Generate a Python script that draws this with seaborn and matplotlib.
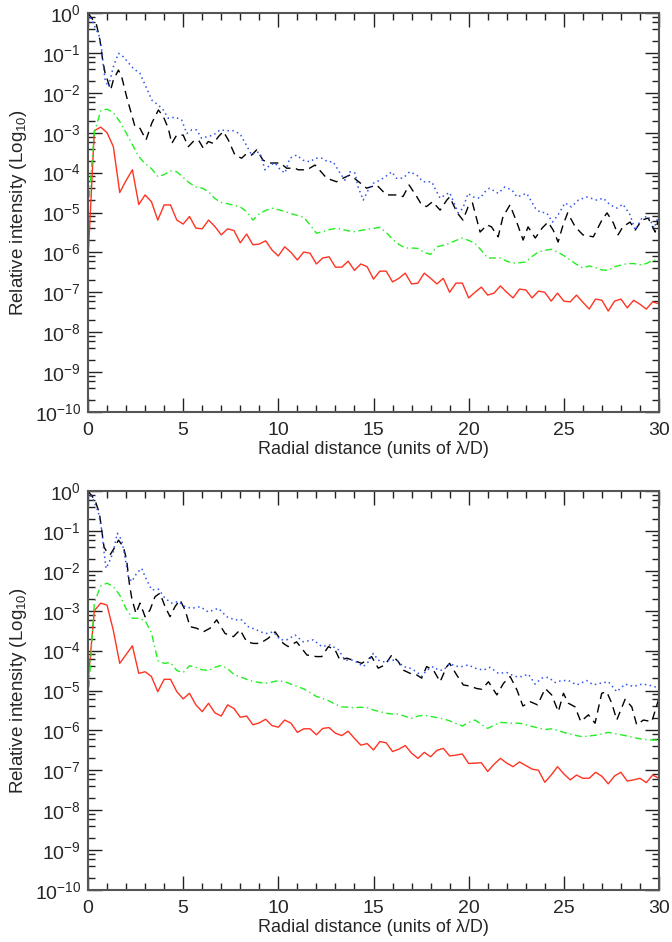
import numpy as np
import pandas as pd
import seaborn as sns
import matplotlib
matplotlib.use("Agg")
import matplotlib.pyplot as plt
from matplotlib.ticker import LogLocator, MultipleLocator, NullFormatter

# ---------------- data (log10 of relative intensity) ----------------
X_GRID = np.arange(91) / 3.0

RED_TOP = [-6.2, -2.95, -2.86, -3.0, -3.35, -4.5, -4.2, -3.93, -4.8, -4.56,
           -4.73, -5.19, -4.81, -4.81, -5.19, -5.29, -5.1, -5.39, -5.41, -5.19,
           -5.35, -5.56, -5.41, -5.45, -5.76, -5.54, -5.81, -5.79, -5.71, -5.94,
           -6.09, -5.86, -6.0, -6.19, -5.99, -6.02, -6.29, -6.14, -6.11, -6.37,
           -6.37, -6.22, -6.45, -6.29, -6.36, -6.67, -6.47, -6.47, -6.74, -6.65,
           -6.52, -6.79, -6.77, -6.52, -6.65, -6.79, -6.65, -7.0, -6.77, -6.77,
           -7.14, -7.0, -6.87, -7.07, -7.02, -6.84, -7.0, -7.14, -6.92, -6.94,
           -7.14, -6.97, -7.0, -7.22, -7.02, -7.22, -7.24, -7.07, -7.25, -7.42,
           -7.17, -7.2, -7.47, -7.22, -7.17, -7.39, -7.2, -7.3, -7.42, -7.24,
           -7.29]

GREEN_TOP = [-5.0, -3.0, -2.45, -2.41, -2.5, -2.72, -3.0, -3.3, -3.6, -3.77,
             -3.9, -4.1, -4.05, -3.96, -3.98, -4.12, -4.26, -4.36, -4.39, -4.48,
             -4.65, -4.75, -4.78, -4.82, -4.86, -4.98, -5.19, -5.03, -4.95, -4.89,
             -4.93, -4.97, -5.03, -5.07, -5.12, -5.31, -5.52, -5.48, -5.43, -5.4,
             -5.42, -5.46, -5.48, -5.45, -5.42, -5.4, -5.37, -5.5, -5.67, -5.8,
             -5.89, -5.89, -5.9, -6.0, -6.05, -5.86, -5.82, -5.77, -5.7, -5.64,
             -5.7, -5.77, -5.95, -6.14, -6.14, -6.14, -6.22, -6.27, -6.26, -6.24,
             -6.1, -5.99, -5.95, -5.92, -5.99, -6.08, -6.19, -6.3, -6.39, -6.34,
             -6.38, -6.44, -6.45, -6.36, -6.32, -6.28, -6.28, -6.31, -6.28, -6.2,
             -6.2]

BLUE_TOP = [(0, 0), (0.28, -0.26), (0.6, -0.59), (0.72, -0.93), (0.81, -1.35), (0.9, -1.68),
            (1.07, -1.85), (1.33, -1.35), (1.6, -1.01), (1.86, -1.1), (2.38, -1.39), (2.73, -1.51),
            (3.0, -1.8), (3.35, -2.18), (3.7, -2.31), (3.96, -2.43), (4.22, -2.64), (4.57, -2.61),
            (4.92, -2.68), (5.19, -3.02), (5.45, -2.93), (5.71, -2.93), (5.97, -3.14), (6.24, -3.1),
            (6.59, -3.06), (6.94, -2.93), (7.29, -2.95), (7.64, -2.95), (7.99, -3.03), (8.34, -3.33),
            (8.6, -3.56), (8.86, -3.48), (9.04, -3.51), (9.3, -3.93), (9.56, -3.81), (9.83, -3.76),
            (10.1, -3.93), (10.35, -4.01), (10.6, -3.64), (10.96, -3.56), (11.3, -3.69), (11.67, -3.73),
            (11.93, -3.64), (12.28, -3.64), (12.6, -3.73), (12.88, -3.73), (13.24, -4.01), (13.5, -4.19),
            (13.77, -3.98), (14.03, -4.01), (14.19, -4.36), (14.46, -4.69), (14.72, -4.44), (14.98, -4.27),
            (15.34, -4.19), (15.6, -4.11), (15.96, -3.98), (16.2, -4.14), (16.55, -4.14), (16.9, -3.98),
            (17.27, -4.06), (17.6, -4.23), (18.06, -4.23), (18.32, -4.48), (18.5, -4.64), (18.76, -4.56),
            (19.0, -4.5), (19.45, -5.01), (19.7, -4.89), (19.97, -4.52), (20.23, -4.61), (20.6, -4.64),
            (20.86, -4.48), (21.1, -4.39), (21.55, -4.52), (21.9, -4.36), (22.28, -4.44), (22.54, -4.61),
            (23.05, -4.52), (23.5, -4.89), (23.75, -4.99), (24.1, -5.01), (24.4, -5.24), (24.7, -5.06),
            (25.06, -4.76), (25.4, -4.86), (25.76, -4.69), (26.2, -4.61), (26.74, -4.69), (27.07, -4.64),
            (27.43, -4.81), (27.8, -4.89), (28.1, -4.79), (28.48, -5.06), (28.75, -5.44), (29.1, -5.14),
            (29.43, -5.09), (29.74, -5.39), (30.0, -5.06)]

BLACK_TOP = [(0, 0), (0.45, -0.3), (0.63, -0.68), (0.77, -1.18), (0.9, -1.51), (1.07, -1.75),
             (1.19, -1.93), (1.33, -1.68), (1.6, -1.43), (1.77, -1.6), (2.03, -2.1), (2.3, -2.56),
             (2.47, -2.85), (2.73, -2.89), (3.05, -3.18), (3.35, -2.76), (3.7, -2.43), (3.96, -2.6),
             (4.22, -2.89), (4.4, -3.27), (4.66, -3.06), (5.0, -3.06), (5.27, -3.35), (5.53, -3.22),
             (5.8, -3.18), (6.06, -3.39), (6.32, -3.22), (6.59, -3.27), (6.85, -3.1), (7.11, -2.97),
             (7.37, -3.18), (7.72, -3.56), (8.07, -3.64), (8.34, -3.52), (8.6, -3.56), (8.86, -3.43),
             (9.2, -3.69), (9.56, -3.76), (10.1, -3.76), (10.44, -3.89), (10.88, -3.89), (11.04, -3.93),
             (11.5, -3.93), (11.93, -3.81), (12.54, -4.14), (13.06, -4.23), (13.4, -4.14), (13.77, -4.06),
             (14.12, -4.19), (14.64, -4.39), (15.17, -4.31), (15.43, -4.44), (15.69, -4.56), (16.22, -4.56),
             (16.55, -4.6), (16.87, -4.31), (17.27, -4.6), (17.53, -4.81), (17.79, -4.85), (18.1, -4.73),
             (18.5, -4.94), (18.85, -4.69), (19.0, -4.61), (19.4, -5.01), (19.7, -5.19), (19.97, -4.86),
             (20.2, -4.76), (20.6, -5.49), (20.97, -5.31), (21.2, -5.36), (21.55, -5.61), (21.8, -5.11),
             (22.17, -4.81), (22.54, -5.26), (22.86, -5.69), (23.12, -5.36), (23.5, -5.64), (23.86, -5.39),
             (24.17, -5.24), (24.44, -5.44), (24.7, -5.74), (24.96, -5.31), (25.2, -5.01), (25.6, -5.36),
             (26.0, -5.56), (26.55, -5.61), (27.0, -5.19), (27.27, -5.01), (27.6, -5.26), (27.85, -5.56),
             (28.1, -5.36), (28.48, -5.24), (28.75, -5.44), (29.1, -5.19), (29.43, -5.14), (29.8, -5.49),
             (30.0, -5.11)]

RED_BOT = [-4.8, -3.0, -2.81, -2.86, -3.5, -4.32, -4.1, -3.88, -4.57, -4.53,
           -4.65, -5.03, -4.72, -4.72, -5.03, -5.21, -5.07, -5.36, -5.53, -5.32,
           -5.56, -5.64, -5.36, -5.45, -5.67, -5.64, -5.86, -5.81, -5.72, -5.88,
           -5.92, -5.74, -5.82, -6.05, -5.96, -5.96, -6.11, -5.95, -5.93, -6.07,
           -6.13, -6.02, -6.2, -6.37, -6.33, -6.49, -6.28, -6.31, -6.53, -6.47,
           -6.38, -6.57, -6.7, -6.55, -6.66, -6.5, -6.45, -6.64, -6.62, -6.59,
           -6.83, -6.82, -6.81, -7.03, -6.85, -6.7, -6.82, -6.91, -6.79, -6.88,
           -6.97, -7.0, -7.3, -7.12, -6.91, -7.09, -7.24, -7.12, -7.2, -7.2,
           -7.05, -7.15, -7.34, -7.14, -7.05, -7.27, -7.24, -7.2, -7.31, -7.12,
           -7.2]

GREEN_BOT = [-5.3, -2.8, -2.38, -2.31, -2.4, -2.61, -2.95, -3.19, -3.19, -3.25,
             -3.55, -4.25, -4.32, -4.3, -4.5, -4.55, -4.38, -4.42, -4.48, -4.5,
             -4.42, -4.37, -4.45, -4.6, -4.66, -4.72, -4.77, -4.8, -4.82, -4.79,
             -4.75, -4.78, -4.84, -4.9, -4.96, -5.05, -5.15, -5.2, -5.26, -5.35,
             -5.41, -5.42, -5.43, -5.42, -5.43, -5.49, -5.53, -5.57, -5.59, -5.59,
             -5.65, -5.7, -5.64, -5.62, -5.65, -5.68, -5.71, -5.76, -5.83, -5.89,
             -5.8, -5.74, -5.85, -5.95, -5.87, -5.8, -5.81, -5.82, -5.82, -5.86,
             -5.9, -5.94, -5.98, -5.96, -6.0, -6.05, -6.09, -6.13, -6.16, -6.14,
             -6.12, -6.09, -6.05, -6.08, -6.11, -6.14, -6.18, -6.21, -6.23, -6.24,
             -6.24]

BLUE_BOT = [(0, 0), (0.28, -0.23), (0.54, -0.52), (0.72, -0.98), (0.81, -1.4), (0.95, -1.94),
            (1.16, -1.73), (1.33, -1.52), (1.54, -1.06), (1.77, -1.23), (1.94, -1.65), (2.12, -2.15),
            (2.3, -2.27), (2.56, -2.06), (2.82, -1.94), (3.08, -2.23), (3.35, -2.48), (3.7, -2.46),
            (4.05, -2.69), (4.4, -2.81), (4.75, -2.77), (5.1, -2.9), (5.45, -2.94), (5.89, -2.9),
            (6.32, -3.03), (6.85, -2.94), (7.29, -3.15), (7.72, -3.23), (8.07, -3.23), (8.42, -3.4),
            (8.86, -3.48), (9.04, -3.53), (9.39, -3.57), (9.74, -3.53), (10.1, -3.73), (10.44, -3.73),
            (10.88, -3.61), (11.31, -3.78), (11.84, -3.73), (12.28, -3.9), (12.72, -3.86), (13.16, -3.98),
            (13.5, -4.24), (13.94, -4.24), (14.21, -4.32), (14.47, -4.4), (14.73, -4.28), (14.99, -4.07),
            (15.25, -4.24), (15.52, -4.28), (15.87, -4.24), (16.22, -4.24), (16.57, -4.4), (16.92, -4.44),
            (17.27, -4.53), (17.53, -4.65), (17.79, -4.49), (18.15, -4.4), (18.41, -4.49), (18.67, -4.49),
            (19.02, -4.32), (19.28, -4.39), (19.63, -4.4), (19.98, -4.36), (20.34, -4.44), (20.77, -4.49),
            (21.12, -4.42), (21.56, -4.57), (22.0, -4.55), (22.44, -4.65), (22.79, -4.65), (23.14, -4.59),
            (23.49, -4.84), (23.84, -4.69), (24.19, -4.67), (24.54, -4.8), (24.89, -4.75), (25.24, -4.75),
            (25.68, -4.86), (26.2, -4.75), (26.55, -4.86), (26.9, -4.82), (27.34, -4.78), (27.78, -5.03),
            (28.22, -4.84), (28.66, -4.9), (29.1, -4.84), (29.44, -4.86), (29.88, -4.92), (30.0, -4.92)]

BLACK_BOT = [(0, 0), (0.37, -0.23), (0.6, -0.56), (0.72, -0.98), (0.84, -1.4), (0.98, -1.52),
             (1.16, -1.6), (1.42, -1.4), (1.6, -1.23), (1.86, -1.4), (2.03, -1.73), (2.17, -2.31),
             (2.3, -2.69), (2.52, -3.07), (2.73, -2.81), (3.0, -3.15), (3.26, -2.98), (3.52, -2.65),
             (3.78, -2.56), (4.05, -2.9), (4.31, -3.15), (4.57, -2.9), (4.83, -2.73), (5.1, -2.98),
             (5.36, -3.4), (5.71, -3.44), (6.06, -3.53), (6.41, -3.44), (6.76, -3.23), (7.2, -3.57),
             (7.64, -3.65), (7.99, -3.48), (8.34, -3.78), (8.69, -3.82), (9.04, -3.82), (9.47, -3.69),
             (9.83, -3.53), (10.26, -3.82), (10.52, -3.9), (10.96, -3.78), (11.5, -4.11), (12.0, -4.15),
             (12.28, -4.15), (12.63, -3.9), (12.98, -3.98), (13.24, -4.24), (13.59, -4.19), (13.94, -4.24),
             (14.38, -4.32), (14.64, -4.24), (14.9, -4.15), (15.25, -4.44), (15.6, -4.36), (15.96, -4.11),
             (16.31, -4.28), (16.57, -4.49), (16.92, -4.57), (17.27, -4.61), (17.53, -4.69), (17.79, -4.4),
             (18.15, -4.49), (18.5, -4.78), (18.85, -4.4), (19.0, -4.32), (19.37, -4.61), (19.72, -4.86),
             (20.07, -4.89), (20.42, -4.95), (20.69, -4.97), (21.04, -4.78), (21.48, -5.11), (21.83, -4.82),
             (22.18, -4.65), (22.54, -4.99), (22.85, -5.39), (23.23, -5.28), (23.62, -5.36), (24.02, -4.95),
             (24.36, -5.11), (24.71, -5.53), (24.98, -5.07), (25.24, -5.32), (25.59, -5.41), (25.89, -5.78),
             (26.29, -5.61), (26.64, -5.82), (26.99, -5.07), (27.25, -5.03), (27.52, -5.32), (27.78, -5.74),
             (28.22, -5.22), (28.57, -5.41), (28.83, -5.86), (29.18, -5.74), (29.62, -5.78), (29.97, -5.24)]

X_LABEL = "Radial distance (units of \u03bb/D)"
Y_LABEL = "Relative intensity (Log$_{10}$)"

# ---------------- style ----------------
sns.set_style("ticks")
plt.rcParams["font.family"] = ["Liberation Sans", "DejaVu Sans"]
plt.rcParams["mathtext.fontset"] = "custom"
plt.rcParams["mathtext.rm"] = "Liberation Sans"
plt.rcParams["mathtext.it"] = "Liberation Sans:italic"
plt.rcParams["mathtext.bf"] = "Liberation Sans:bold"
plt.rcParams["axes.unicode_minus"] = False

C_BLUE = "#2f55ee"
C_GREEN = "#22ee22"
C_RED = "#ff3322"
C_BLACK = "#000000"

fig = plt.figure(figsize=(6.72, 9.42), dpi=100)
L, R = 88 / 672, 659 / 672
ax1 = fig.add_axes([L, 1 - 412 / 942, R - L, 399 / 942])
ax2 = fig.add_axes([L, 1 - 890 / 942, R - L, 399 / 942])


def draw_line(ax, x, logv, color, dashes, lw=1.0):
    df = pd.DataFrame({"x": np.asarray(x, float), "y": 10.0 ** np.asarray(logv, float)})
    sns.lineplot(data=df, x="x", y="y", ax=ax, color=color, lw=lw,
                 estimator=None, sort=False, legend=False)
    line = ax.lines[-1]
    if dashes is not None:
        line.set_dashes(dashes)
    line.set_clip_on(True)


def panel(ax, red, green, blue, black):
    draw_line(ax, X_GRID, red, C_RED, None, 1.0)
    draw_line(ax, X_GRID, green, C_GREEN, (5, 2.5, 1, 2.5), 1.0)
    bx, by = zip(*black)
    draw_line(ax, bx, by, C_BLACK, (6, 4), 1.0)
    ux, uy = zip(*blue)
    draw_line(ax, ux, uy, C_BLUE, (1, 2.2), 1.1)

    ax.set_yscale("log")
    ax.set_xlim(0, 30)
    ax.set_ylim(1e-10, 1)
    ax.xaxis.set_major_locator(MultipleLocator(5))
    ax.xaxis.set_minor_locator(MultipleLocator(1))
    ax.yaxis.set_major_locator(LogLocator(base=10, numticks=20))
    ax.yaxis.set_minor_locator(LogLocator(base=10, subs=[2, 4, 6, 8], numticks=20))
    ax.yaxis.set_minor_formatter(NullFormatter())
    ax.tick_params(which="both", direction="in", top=True, right=True,
                   color="#222222", labelsize=14)
    ax.tick_params(which="major", length=10, width=1.0)
    ax.tick_params(which="minor", length=5, width=1.0)
    ax.tick_params(axis="x", pad=7)
    ax.tick_params(axis="y", pad=5)
    for s in ax.spines.values():
        s.set_color("#555555")
        s.set_linewidth(1.5)
    ax.set_xlabel(X_LABEL, fontsize=13, labelpad=2)
    ax.set_ylabel(Y_LABEL, fontsize=13.5, labelpad=4)


panel(ax1, RED_TOP, GREEN_TOP, BLUE_TOP, BLACK_TOP)
panel(ax2, RED_BOT, GREEN_BOT, BLUE_BOT, BLACK_BOT)

fig.savefig("out.png", dpi=100)
